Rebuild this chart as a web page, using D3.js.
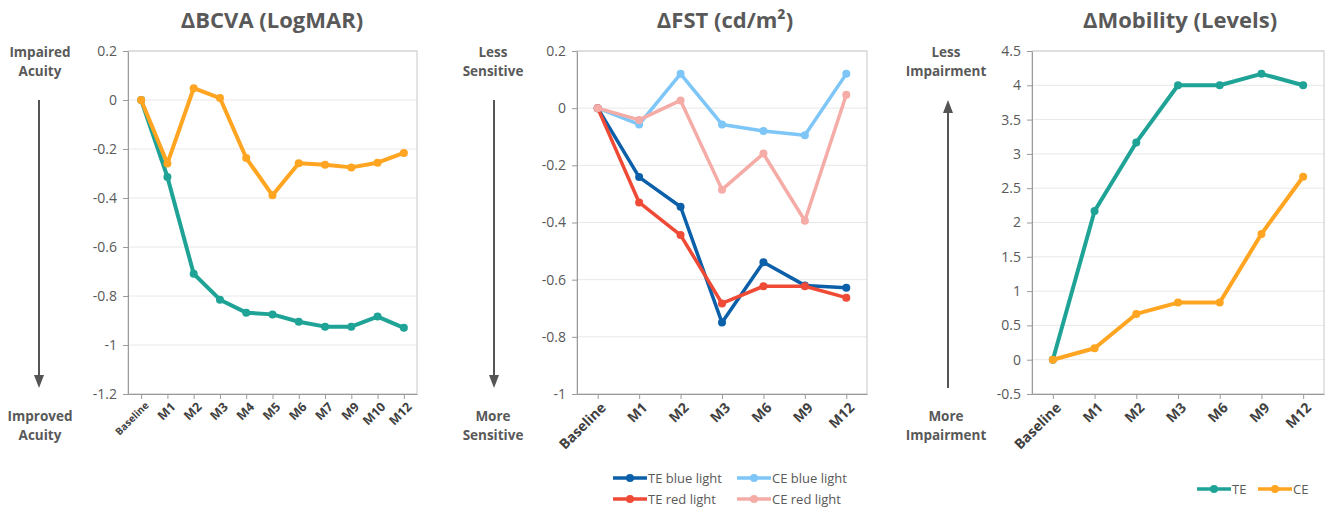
<!DOCTYPE html>
<html lang="en">
<head>
<meta charset="utf-8">
<title>Outcomes</title>
<script src="https://d3js.org/d3.v7.min.js"></script>
<style>
  body { margin: 0; background: #fff; }
  text { font-family: "Open Sans", "Noto Sans", sans-serif; }
</style>
</head>
<body>
<script>
// ---- data ----
var bcvaVisits = ["Baseline", "M1", "M2", "M3", "M4", "M5", "M6", "M7", "M9", "M10", "M12"];
var bcvaTE = [0, -0.314, -0.709, -0.815, -0.868, -0.875, -0.905, -0.925, -0.925, -0.884, -0.93];
var bcvaCE = [0, -0.259, 0.048, 0.008, -0.237, -0.389, -0.258, -0.264, -0.275, -0.256, -0.216];
var bcvaTicks = [0.2, 0, -0.2, -0.4, -0.6, -0.8, -1, -1.2];

var fstVisits = ["Baseline", "M1", "M2", "M3", "M6", "M9", "M12"];
var fstTEBlue = [0, -0.241, -0.345, -0.75, -0.539, -0.62, -0.628];
var fstCEBlue = [0, -0.057, 0.12, -0.057, -0.08, -0.095, 0.12];
var fstTERed = [0, -0.33, -0.444, -0.683, -0.623, -0.623, -0.663];
var fstCERed = [0, -0.041, 0.027, -0.285, -0.159, -0.394, 0.047];
var fstTicks = [0.2, 0, -0.2, -0.4, -0.6, -0.8, -1];

var mobVisits = ["Baseline", "M1", "M2", "M3", "M6", "M9", "M12"];
var mobTE = [0, 2.167, 3.167, 4, 4, 4.167, 4];
var mobCE = [0, 0.167, 0.667, 0.833, 0.833, 1.833, 2.667];
var mobTicks = [4.5, 4, 3.5, 3, 2.5, 2, 1.5, 1, 0.5, 0, -0.5];

var teal = "#1fa396", orange = "#ffa521";
var darkBlue = "#0c5fa9", red = "#ef4a36", lightBlue = "#7dc6f7", lightRed = "#f5aca7";
var textGray = "#595959";

var svg = d3.select("body").append("svg")
    .attr("width", 1334)
    .attr("height", 514);

function panel(opt) {
  var g = svg.append("g");
  var x = d3.scalePoint().domain(opt.visits).range([opt.left, opt.right]).padding(0.5);
  var y = d3.scaleLinear().domain(opt.domain).range([394, 51]);

  // title
  g.append("text")
      .attr("x", opt.titleX).attr("y", 28)
      .attr("text-anchor", "middle")
      .attr("font-size", 22).attr("font-weight", "bold")
      .attr("fill", textGray)
      .text(opt.title);

  // grid
  g.selectAll(".grid").data(opt.ticks).enter().append("line")
      .attr("x1", opt.left).attr("x2", opt.right)
      .attr("y1", d => y(d)).attr("y2", d => y(d))
      .attr("stroke", "#e8e8e8");

  // frame
  g.append("rect")
      .attr("x", opt.left).attr("y", 51)
      .attr("width", opt.right - opt.left).attr("height", 343)
      .attr("fill", "none").attr("stroke", "#c8c8c8");

  // y axis
  var ya = g.append("g")
      .attr("transform", "translate(" + opt.left + ",0)")
      .call(d3.axisLeft(y).tickValues(opt.ticks).tickSize(5).tickSizeOuter(0).tickFormat(d3.format("")));
  ya.select(".domain").attr("stroke", "#9a9a9a");
  ya.selectAll("line").attr("stroke", "#9a9a9a");
  ya.selectAll("text").attr("fill", textGray).attr("font-size", 14)
      .attr("font-family", "Open Sans, sans-serif").attr("dx", -3)
      .text(d => d < 0 ? "-" + Math.abs(d) : d);

  // x axis
  var xa = g.append("g")
      .attr("transform", "translate(0,394)")
      .call(d3.axisBottom(x).tickSize(5).tickSizeOuter(0));
  xa.select(".domain").attr("stroke", "#9a9a9a");
  xa.selectAll("line").attr("stroke", "#9a9a9a");
  xa.selectAll("text")
      .attr("fill", "#404040").attr("font-weight", "bold")
      .attr("font-size", opt.xFont)
      .attr("font-family", "Open Sans, sans-serif")
      .attr("text-anchor", "end")
      .attr("transform", "rotate(-45)")
      .attr("dx", "-0.3em").attr("dy", "0.6em")
      .attr("x", 0).attr("y", 8);
  if (opt.baseFont) {
    xa.selectAll("text").filter(d => d === "Baseline").attr("font-size", opt.baseFont);
  }

  // series
  var line = d3.line().x((d, i) => x(opt.visits[i])).y(d => y(d));
  opt.series.forEach(function (s) {
    g.append("path").datum(s.values)
        .attr("d", line)
        .attr("fill", "none").attr("stroke", s.color)
        .attr("stroke-width", opt.lineWidth).attr("stroke-linejoin", "round");
    g.selectAll(null).data(s.values).enter().append("circle")
        .attr("cx", (d, i) => x(opt.visits[i])).attr("cy", d => y(d))
        .attr("r", 4).attr("fill", s.color);
  });

  // side labels + arrow
  var lab = function (lines, yy) {
    var t = g.append("text").attr("x", opt.sideX).attr("y", yy)
        .attr("text-anchor", "middle").attr("font-size", 13.5)
        .attr("font-weight", "bold").attr("fill", textGray);
    lines.forEach(function (l, i) {
      t.append("tspan").attr("x", opt.sideX).attr("dy", i ? 19 : 0).text(l);
    });
  };
  lab(opt.topLabel, 57);
  lab(opt.bottomLabel, 421);
  var ay0 = opt.arrowUp ? 388 : 100, ay1 = opt.arrowUp ? 100 : 388;
  var dir = opt.arrowUp ? -1 : 1;
  g.append("line")
      .attr("x1", opt.arrowX).attr("x2", opt.arrowX)
      .attr("y1", ay0).attr("y2", ay1 - dir * 10)
      .attr("stroke", "#555").attr("stroke-width", 2);
  g.append("path")
      .attr("d", "M" + (opt.arrowX - 5) + "," + (ay1 - dir * 13) + "L" + (opt.arrowX + 5) + "," + (ay1 - dir * 13) + "L" + opt.arrowX + "," + ay1 + "Z")
      .attr("fill", "#555");

  // legend
  (opt.legend || []).forEach(function (it, i) {
    var s = opt.series[it.idx];
    var lg = g.append("g").attr("transform", "translate(" + it.x + "," + it.y + ")");
    lg.append("line").attr("x1", 0).attr("x2", 34).attr("stroke", s.color).attr("stroke-width", 3.5);
    lg.append("circle").attr("cx", 17).attr("r", 4).attr("fill", s.color);
    lg.append("text").attr("x", 35).attr("y", 5).attr("font-size", 13)
        .attr("fill", textGray).text(s.name);
  });
}

panel({
  title: "ΔBCVA (LogMAR)", titleX: 272,
  visits: bcvaVisits, domain: [-1.2, 0.2], ticks: bcvaTicks,
  left: 128, right: 417, xFont: 12.5, baseFont: 10, lineWidth: 4,
  series: [{ name: "TE", values: bcvaTE, color: teal }, { name: "CE", values: bcvaCE, color: orange }],
  sideX: 40, arrowX: 39, arrowUp: false,
  topLabel: ["Impaired", "Acuity"], bottomLabel: ["Improved", "Acuity"]
});

panel({
  title: "ΔFST (cd/m²)", titleX: 725,
  visits: fstVisits, domain: [-1, 0.2], ticks: fstTicks,
  left: 577, right: 867, xFont: 14, lineWidth: 3.5,
  series: [
    { name: "TE blue light", values: fstTEBlue, color: darkBlue },
    { name: "CE blue light", values: fstCEBlue, color: lightBlue },
    { name: "TE red light", values: fstTERed, color: red },
    { name: "CE red light", values: fstCERed, color: lightRed }
  ],
  sideX: 493, arrowX: 494, arrowUp: false,
  topLabel: ["Less", "Sensitive"], bottomLabel: ["More", "Sensitive"],
  legend: [
    { idx: 0, x: 613, y: 478 }, { idx: 1, x: 737, y: 478 },
    { idx: 2, x: 613, y: 499 }, { idx: 3, x: 737, y: 499 }
  ]
});

panel({
  title: "ΔMobility (Levels)", titleX: 1180,
  visits: mobVisits, domain: [-0.5, 4.5], ticks: mobTicks,
  left: 1032, right: 1324, xFont: 14, lineWidth: 4,
  series: [{ name: "TE", values: mobTE, color: teal }, { name: "CE", values: mobCE, color: orange }],
  sideX: 946, arrowX: 948, arrowUp: true,
  topLabel: ["Less", "Impairment"], bottomLabel: ["More", "Impairment"],
  legend: [{ idx: 0, x: 1197, y: 489 }, { idx: 1, x: 1258, y: 489 }]
});
</script>
</body>
</html>
